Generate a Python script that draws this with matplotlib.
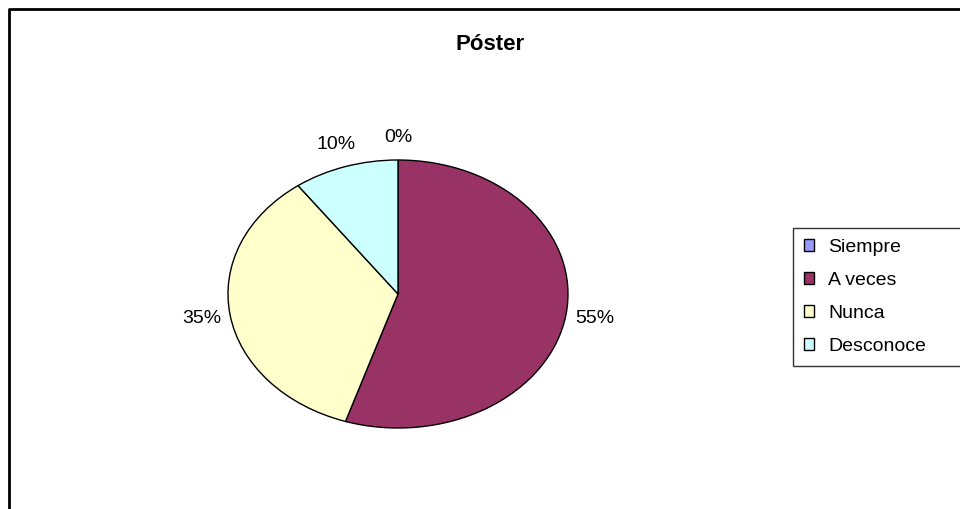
import matplotlib
matplotlib.use("Agg")
import matplotlib.pyplot as plt
from matplotlib.lines import Line2D

plt.rcParams['font.family'] = ['Liberation Sans', 'DejaVu Sans']

title = "Póster"
categories = ["Siempre", "A veces", "Nunca", "Desconoce"]
values = [0, 55, 35, 10]
colors = ["#9999FF", "#993366", "#FFFFCC", "#CCFFFF"]

W, H = 960, 509
fig = plt.figure(figsize=(W / 100, H / 100), dpi=100)
fig.patch.set_facecolor("white")

# pie sits in a wider-than-tall box so it comes out as an ellipse
cx, cy, rx, ry = 398, 294, 170, 134
ax = fig.add_axes([(cx - 1.25 * rx) / W, (H - cy - 1.25 * ry) / H,
                   2.5 * rx / W, 2.5 * ry / H])
wedges, texts, autotexts = ax.pie(
    values, colors=colors, startangle=90, counterclock=False,
    autopct="%1.0f%%", pctdistance=1.17,
    wedgeprops=dict(edgecolor="black", linewidth=1.0),
    textprops=dict(fontsize=14, color="black"))
ax.set_xlim(-1.25, 1.25)
ax.set_ylim(-1.25, 1.25)
ax.set_aspect("auto")

fig.text(490 / W, 1 - 44 / H, title, ha="center", va="center",
         fontsize=16, fontweight="bold")

leg = fig.legend(wedges, categories, loc="upper left",
                 bbox_to_anchor=(793 / W, 1 - 228 / H, (963 - 793) / W, 0),
                 mode="expand", fontsize=14, frameon=True, fancybox=False,
                 shadow=False, borderpad=0.55, labelspacing=0.83,
                 handlelength=0.55, handleheight=0.55, handletextpad=0.7,
                 borderaxespad=0)
leg.get_frame().set_edgecolor("black")
leg.get_frame().set_linewidth(1.0)
for h in leg.legend_handles:
    h.set_edgecolor("black")
    h.set_linewidth(1.0)

# outer chart border: left and top sides only
fig.add_artist(Line2D([9 / W, 9 / W, 1], [0, 1 - 9 / H, 1 - 9 / H],
                      transform=fig.transFigure, color="black", linewidth=2))

fig.savefig("out.png", dpi=100, facecolor="white")
